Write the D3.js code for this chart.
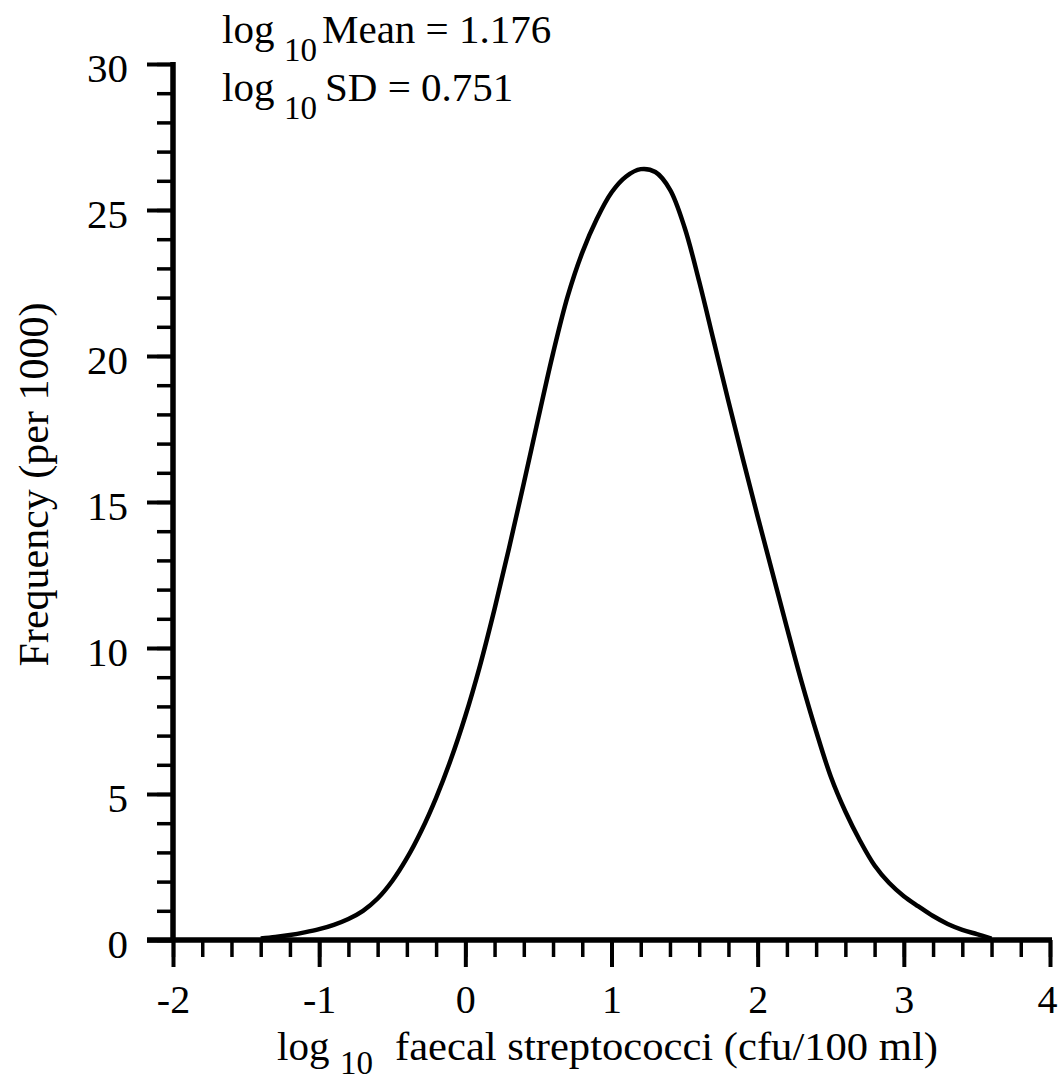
<!DOCTYPE html>
<html>
<head>
<meta charset="utf-8">
<script src="https://cdn.jsdelivr.net/npm/d3@7"></script>
<style>
  body { margin: 0; background: #fff; }
  svg text { font-family: "Liberation Serif", "Times New Roman", serif; fill: #000; }
</style>
</head>
<body>
<div id="chart"></div>
<script>
// curve: log10 count vs frequency per 1000
var xValues = [-1.4, -1.3, -1.2, -1.1, -1.0, -0.9, -0.8, -0.7, -0.6, -0.5, -0.4, -0.3, -0.2, -0.1,
               0.0, 0.1, 0.2, 0.3, 0.4, 0.5, 0.6, 0.7, 0.8, 0.9, 1.0, 1.1, 1.2, 1.3, 1.4, 1.5,
               1.6, 1.7, 1.8, 1.9, 2.0, 2.1, 2.2, 2.3, 2.4, 2.5, 2.6, 2.7, 2.8, 2.9, 3.0, 3.1,
               3.2, 3.3, 3.4, 3.5, 3.6];
var freqValues = [0.05, 0.10, 0.17, 0.26, 0.37, 0.52, 0.72, 1.00, 1.42, 2.02, 2.80, 3.75, 4.87, 6.17,
                  7.67, 9.39, 11.34, 13.44, 15.64, 17.89, 20.09, 22.04, 23.54, 24.70, 25.60, 26.15, 26.40, 26.30, 25.70, 24.40,
                  22.55, 20.50, 18.45, 16.45, 14.50, 12.60, 10.70, 8.85, 7.15, 5.60, 4.40, 3.40, 2.55, 1.95, 1.50, 1.15,
                  0.82, 0.55, 0.35, 0.20, 0.05];
var xTicks = [-2, -1, 0, 1, 2, 3, 4];
var yTicks = [0, 5, 10, 15, 20, 25, 30];
var statLines = ["Mean = 1.176", "SD = 0.751"];

var width = 1059,
    height = 1082,
    margin = {top: 64, right: 9, bottom: 142, left: 173};

var svg = d3.select("#chart").append("svg")
    .attr("width", width)
    .attr("height", height);

var x = d3.scaleLinear().domain([-2, 4]).range([margin.left, width - margin.right]);
var y = d3.scaleLinear().domain([0, 30]).range([height - margin.bottom, margin.top]);

var minorX = d3.range(-2, 4.001, 0.2).map(function(d) { return +d.toFixed(1); });
var minorY = d3.range(0, 31, 1);

function styleTicks(g, w) {
  g.select(".domain").remove();
  g.selectAll(".tick line").attr("stroke", "#000").attr("stroke-width", w);
}

// minor ticks
svg.append("g")
    .attr("transform", "translate(0," + y(0) + ")")
    .call(d3.axisBottom(x).tickValues(minorX).tickSize(17).tickFormat(""))
    .call(styleTicks, 3.5);

svg.append("g")
    .attr("transform", "translate(" + x(-2) + ",0)")
    .call(d3.axisLeft(y).tickValues(minorY).tickSize(16).tickFormat(""))
    .call(styleTicks, 3.5);

// major ticks + labels
var xAxis = svg.append("g")
    .attr("transform", "translate(0," + y(0) + ")")
    .call(d3.axisBottom(x).tickValues(xTicks).tickSize(27).tickPadding(18).tickFormat(d3.format("d")))
    .call(styleTicks, 4);
xAxis.selectAll("text").attr("font-size", 40).attr("font-family", "Liberation Serif")
    .attr("dx", function(d) { return d === 4 ? -3 : 0; })
    .text(function(d) { return d < 0 ? "-" + Math.abs(d) : d; });

var yAxis = svg.append("g")
    .attr("transform", "translate(" + x(-2) + ",0)")
    .call(d3.axisLeft(y).tickValues(yTicks).tickSize(26).tickPadding(19))
    .call(styleTicks, 4);
yAxis.selectAll("text").attr("font-size", 41).attr("font-family", "Liberation Serif").attr("dy", "0.42em");

// axis lines
svg.append("line")
    .attr("x1", x(-2) - 26).attr("x2", x(4) + 2)
    .attr("y1", y(0)).attr("y2", y(0))
    .attr("stroke", "#000").attr("stroke-width", 5.5);
svg.append("line")
    .attr("x1", x(-2)).attr("x2", x(-2))
    .attr("y1", y(30) - 2).attr("y2", y(0))
    .attr("stroke", "#000").attr("stroke-width", 5.5);

// curve
var line = d3.line()
    .x(function(d, i) { return x(xValues[i]); })
    .y(function(d) { return y(d); })
    .curve(d3.curveCatmullRom.alpha(0.5));

svg.append("path")
    .datum(freqValues)
    .attr("fill", "none")
    .attr("stroke", "#000")
    .attr("stroke-width", 4.5)
    .attr("stroke-linejoin", "round")
    .attr("d", line);

// stats text
statLines.forEach(function(s, i) {
  var base = 43 + i * 58;
  var t = svg.append("text").attr("font-size", 41).attr("y", base);
  t.append("tspan").attr("x", 222).text("log");
  t.append("tspan").attr("x", 284).attr("dy", 18).attr("font-size", 33).text("10");
  t.append("tspan").attr("x", i === 0 ? 322 : 325).attr("dy", -18).text(s);
});

// x label
var xl = svg.append("text").attr("font-size", 41).attr("y", 1060);
xl.append("tspan").attr("x", 277).text("log");
xl.append("tspan").attr("x", 340).attr("dy", 14).attr("font-size", 33).text("10");
xl.append("tspan").attr("x", 395).attr("dy", -14)
    .attr("textLength", 543).attr("lengthAdjust", "spacingAndGlyphs")
    .text("faecal streptococci (cfu/100 ml)");

// y label
svg.append("text")
    .attr("transform", "translate(48," + y(15.6) + ") rotate(-90)")
    .attr("text-anchor", "middle")
    .attr("font-size", 42)
    .text("Frequency (per 1000)");
</script>
</body>
</html>
